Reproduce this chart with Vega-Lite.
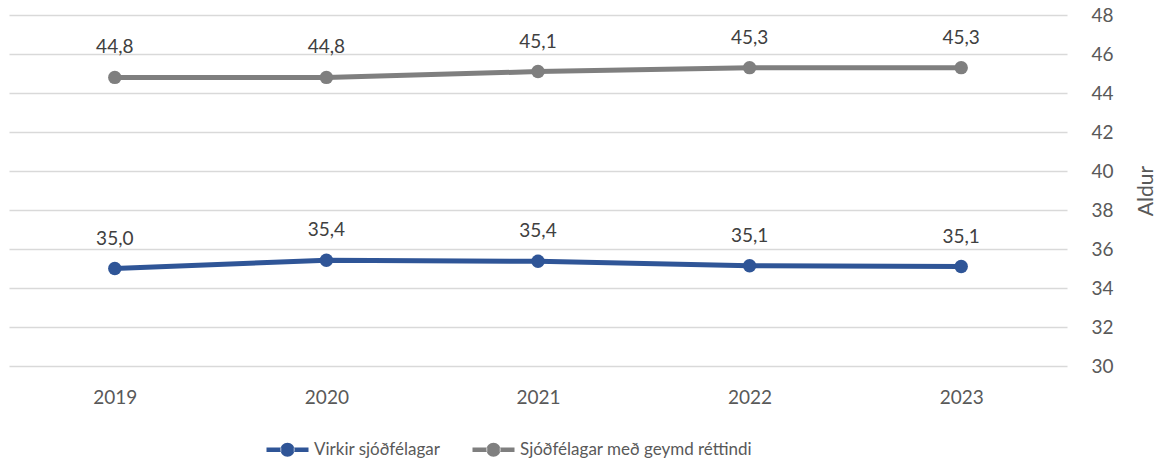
{
  "$schema": "https://vega.github.io/schema/vega-lite/v6.json",
  "autosize": "none",
  "width": 1058,
  "height": 351,
  "padding": {"left": 9, "top": 15, "right": 91, "bottom": 101},
  "background": "white",
  "config": {
    "font": "Lato",
    "view": {"stroke": null},
    "axis": {"labelColor": "#595959", "titleColor": "#595959", "labelFont": "Lato", "titleFont": "Lato"}
  },
  "data": {
    "values": [
      {"year": "2019", "series": "Virkir sjóðfélagar", "value": 35.0, "label": "35,0"},
      {"year": "2020", "series": "Virkir sjóðfélagar", "value": 35.42, "label": "35,4"},
      {"year": "2021", "series": "Virkir sjóðfélagar", "value": 35.37, "label": "35,4"},
      {"year": "2022", "series": "Virkir sjóðfélagar", "value": 35.14, "label": "35,1"},
      {"year": "2023", "series": "Virkir sjóðfélagar", "value": 35.1, "label": "35,1"},
      {"year": "2019", "series": "Sjóðfélagar með geymd réttindi", "value": 44.8, "label": "44,8"},
      {"year": "2020", "series": "Sjóðfélagar með geymd réttindi", "value": 44.8, "label": "44,8"},
      {"year": "2021", "series": "Sjóðfélagar með geymd réttindi", "value": 45.1, "label": "45,1"},
      {"year": "2022", "series": "Sjóðfélagar með geymd réttindi", "value": 45.3, "label": "45,3"},
      {"year": "2023", "series": "Sjóðfélagar með geymd réttindi", "value": 45.3, "label": "45,3"}
    ]
  },
  "encoding": {
    "x": {
      "field": "year", "type": "ordinal",
      "scale": {"type": "point", "padding": 0.5},
      "axis": {"title": null, "labelAngle": 0, "domain": false, "ticks": false, "labelPadding": 22, "labelFontSize": 19, "grid": false}
    },
    "y": {
      "field": "value", "type": "quantitative",
      "scale": {"domain": [30, 48], "nice": false, "zero": false},
      "axis": {
        "orient": "right", "title": "Aldur", "values": [30, 32, 34, 36, 38, 40, 42, 44, 46, 48],
        "domain": false, "ticks": false, "labelPadding": 24, "labelFontSize": 19,
        "titleFontSize": 21, "titleFontWeight": "normal", "titlePadding": 22, "titleAngle": 270, "titleBaseline": "top",
        "gridColor": "#d9d9d9", "gridWidth": 1.5
      }
    },
    "color": {
      "field": "series", "type": "nominal",
      "scale": {"domain": ["Virkir sjóðfélagar", "Sjóðfélagar með geymd réttindi"], "range": ["#2F5597", "#7F7F7F"]},
      "legend": {
        "title": null, "orient": "none", "direction": "horizontal",
        "legendX": 270, "legendY": 426,
        "symbolType": "M-3,-0.32H-0.9V0.32H-3Z M0.9,-0.32H3V0.32H0.9Z M-1,0A1,1 0 1,0 1,0A1,1 0 1,0 -1,0Z",
        "symbolSize": 196, "symbolStrokeWidth": 0,
        "labelFontSize": 17, "labelColor": "#595959", "labelOffset": 18, "columnPadding": 31, "labelLimit": 0,
        "encode": {"symbols": {"update": {"fill": {"scale": "color", "field": "value"}, "strokeWidth": {"value": 0}, "opacity": {"value": 1}}}}
      }
    }
  },
  "layer": [
    {"mark": {"type": "line", "strokeWidth": 5}},
    {"mark": {"type": "point", "filled": true, "size": 180, "opacity": 1}},
    {
      "mark": {"type": "text", "baseline": "alphabetic", "dy": -24, "fontSize": 19, "color": "#404040"},
      "encoding": {"text": {"field": "label"}, "color": {"value": "#404040"}}
    }
  ]
}
